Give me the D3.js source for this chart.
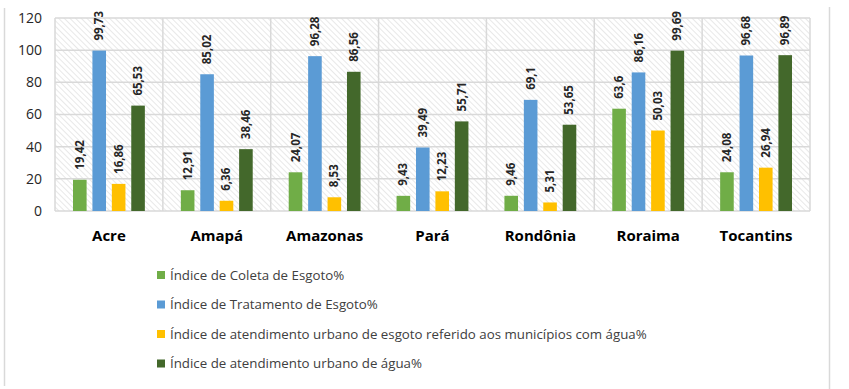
<!DOCTYPE html>
<html lang="pt">
<head>
<meta charset="utf-8">
<title>Índices de saneamento - Região Norte</title>
<script src="https://d3js.org/d3.v7.min.js"></script>
<style>
    body { margin: 0; background: #fff; }
    svg { font-family: "Open Sans", "Noto Sans", sans-serif; }
    .grid line { stroke: #d9d9d9; stroke-width: 1.5; }
    .ytick text { fill: #262626; font-size: 14px; }
    .cat { fill: #000; font-size: 15px; font-weight: bold; }
    .val { fill: #262626; font-size: 11.5px; font-weight: bold; }
    .leg text { fill: #404040; font-size: 13.3px; }
</style>
</head>
<body>
<div id="chart"></div>
<script>
// estados
var estados = ["Acre", "Amapá", "Amazonas", "Pará", "Rondônia", "Roraima", "Tocantins"];

// series (valores em %)
var coletaEsgoto = [19.42, 12.91, 24.07, 9.43, 9.46, 63.6, 24.08];
var tratamentoEsgoto = [99.73, 85.02, 96.28, 39.49, 69.1, 86.16, 96.68];
var atendEsgoto = [16.86, 6.36, 8.53, 12.23, 5.31, 50.03, 26.94];
var atendAgua = [65.53, 38.46, 86.56, 55.71, 53.65, 99.69, 96.89];

var nomesSeries = [
    "Índice de Coleta de Esgoto%",
    "Índice de Tratamento de Esgoto%",
    "Índice de atendimento urbano de esgoto referido aos municípios com água%",
    "Índice de atendimento urbano de água%"
];
var cores = ["#70ad47", "#5b9bd5", "#ffc000", "#43682b"];
var yTicks = [0, 20, 40, 60, 80, 100, 120];

var series = [coletaEsgoto, tratamentoEsgoto, atendEsgoto, atendAgua];

var W = 849, H = 389;
var plot = {left: 55, right: 810, top: 18, bottom: 211};

var svg = d3.select("#chart").append("svg")
    .attr("width", W).attr("height", H);

// hatch pattern for plot background
var defs = svg.append("defs");
var pat = defs.append("pattern")
    .attr("id", "hatch")
    .attr("patternUnits", "userSpaceOnUse")
    .attr("width", 4).attr("height", 4)
    .attr("patternTransform", "rotate(-45)");
pat.append("rect").attr("width", 4).attr("height", 4).attr("fill", "#fff");
pat.append("line")
    .attr("x1", 0).attr("y1", 0).attr("x2", 0).attr("y2", 4)
    .attr("stroke", "#dcdcdc").attr("stroke-width", 1.3);

// outer frame (side lines)
svg.append("line").attr("x1", 4.5).attr("x2", 4.5).attr("y1", 8).attr("y2", 386)
    .attr("stroke", "#d9d9d9").attr("stroke-width", 1.5);
svg.append("line").attr("x1", 829.5).attr("x2", 829.5).attr("y1", 7).attr("y2", 389)
    .attr("stroke", "#d9d9d9").attr("stroke-width", 1.5);

var x0 = d3.scaleBand()
    .domain(estados)
    .range([plot.left, plot.right])
    .paddingInner(0)
    .paddingOuter(0);

var x1 = d3.scaleBand()
    .domain(d3.range(series.length))
    .range([18, x0.bandwidth() - 18])
    .paddingInner(0.3);

var y = d3.scaleLinear()
    .domain([0, 120])
    .range([plot.bottom, plot.top]);

svg.append("rect")
    .attr("x", plot.left).attr("y", plot.top)
    .attr("width", plot.right - plot.left)
    .attr("height", plot.bottom - plot.top)
    .attr("fill", "url(#hatch)");

// gridlines
var grid = svg.append("g").attr("class", "grid");
grid.selectAll(".h").data(yTicks).enter().append("line")
    .attr("x1", plot.left).attr("x2", plot.right)
    .attr("y1", function(d) { return y(d); })
    .attr("y2", function(d) { return y(d); });
grid.selectAll(".v").data(estados.concat(["fim"])).enter().append("line")
    .attr("x1", function(d, i) { return plot.left + i * x0.bandwidth(); })
    .attr("x2", function(d, i) { return plot.left + i * x0.bandwidth(); })
    .attr("y1", plot.top).attr("y2", plot.bottom);

// y axis labels
svg.append("g").attr("class", "ytick")
    .selectAll("text").data(yTicks).enter().append("text")
    .attr("x", 42)
    .attr("y", function(d) { return y(d); })
    .attr("dy", "0.35em")
    .attr("text-anchor", "end")
    .text(function(d) { return d; });

// bars
var groups = svg.selectAll(".grupo")
    .data(estados)
    .enter().append("g")
    .attr("class", "grupo")
    .attr("transform", function(d) { return "translate(" + x0(d) + ",0)"; });

var fmt = function(v) { return String(v).replace(".", ","); };

groups.each(function(est, i) {
    var g = d3.select(this);
    var vals = series.map(function(s, k) { return {k: k, v: s[i]}; });
    g.selectAll("rect").data(vals).enter().append("rect")
        .attr("x", function(d) { return x1(d.k); })
        .attr("y", function(d) { return y(d.v); })
        .attr("width", x1.bandwidth())
        .attr("height", function(d) { return y(0) - y(d.v); })
        .attr("fill", function(d) { return cores[d.k]; });
    g.selectAll("text.val").data(vals).enter().append("text")
        .attr("class", "val")
        .attr("transform", function(d) {
            return "translate(" + (x1(d.k) + x1.bandwidth() / 2 + 4) + "," + (y(d.v) - 10) + ") rotate(-90)";
        })
        .attr("text-anchor", "start")
        .text(function(d) { return fmt(d.v); });
});

// category labels
svg.selectAll(".cat").data(estados).enter().append("text")
    .attr("class", "cat")
    .attr("x", function(d) { return x0(d) + x0.bandwidth() / 2; })
    .attr("y", 241)
    .attr("text-anchor", "middle")
    .text(function(d) { return d; });

// legend
var leg = svg.append("g").attr("class", "leg");
var legItems = leg.selectAll("g").data(nomesSeries).enter().append("g")
    .attr("transform", function(d, i) { return "translate(157," + (275 + i * 29.5) + ")"; });
legItems.append("rect")
    .attr("x", 0).attr("y", -4).attr("width", 8).attr("height", 8)
    .attr("fill", function(d, i) { return cores[i]; });
legItems.append("text")
    .attr("x", 13).attr("y", 0).attr("dy", "0.35em")
    .text(function(d) { return d; });
</script>
</body>
</html>
